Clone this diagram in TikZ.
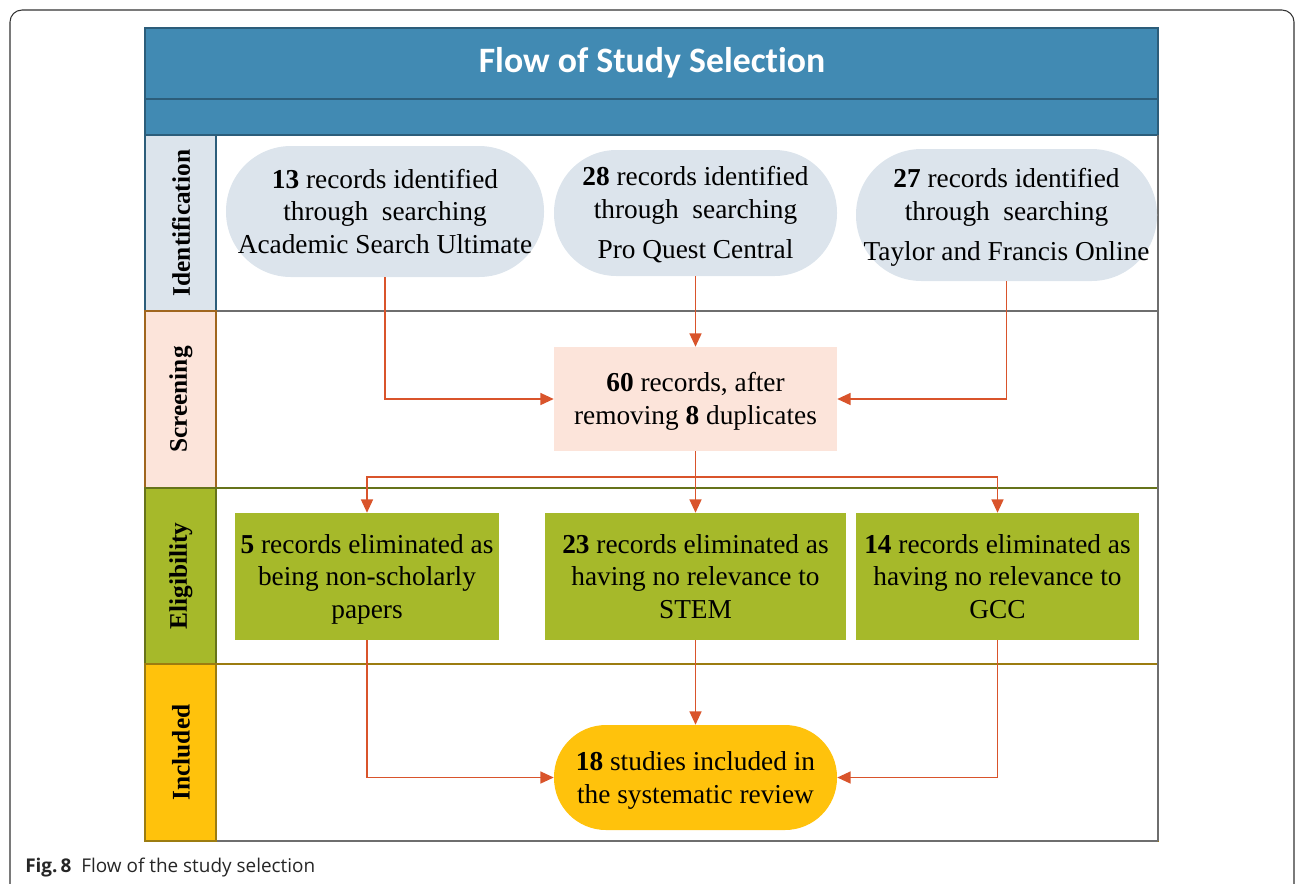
\documentclass[tikz,border=0pt]{standalone}
\usepackage{fontspec}
\setmainfont{Liberation Serif}
\newfontfamily\titlefont[Ligatures=NoCommon]{Carlito}
\newfontfamily\capfont{Open Sans}
\usetikzlibrary{arrows.meta}
\definecolor{hdr}{HTML}{418AB3}
\definecolor{hdrline}{HTML}{2C5D7A}
\definecolor{idfill}{HTML}{DCE4EC}
\definecolor{scfill}{HTML}{FCE4DA}
\definecolor{elfill}{HTML}{A6B92A}
\definecolor{infill}{HTML}{FFC20C}
\definecolor{arr}{HTML}{D9542B}
\definecolor{scline}{HTML}{A0661E}
\definecolor{elline}{HTML}{66731A}
\definecolor{inline}{HTML}{9C7C10}
\definecolor{sepgray}{HTML}{6E6E6E}
\newcommand\fs{\rule[-5.3pt]{0pt}{24.5pt}}
\begin{document}
\begin{tikzpicture}[x=0.75pt,y=-0.75pt,
  txt/.style={font=\fontsize{20.5pt}{24.5pt}\selectfont, align=center, inner sep=0pt, text=black},
  boxnode/.style={txt, rectangle, draw=none},
  lanelab/.style={font=\fontsize{19pt}{22pt}\selectfont\bfseries, rotate=90, inner sep=0pt},
  flow/.style={draw=arr, line width=1.1pt, -{Triangle[length=10pt,width=9pt]}},
  flowplain/.style={draw=arr, line width=1.1pt}
]
\useasboundingbox (0,0) rectangle (1295,883);
% outer frame
\draw[line width=0.8pt, draw=black!80, rounded corners=9pt] (10,884) -- (10,10) -- (1294,10) -- (1294,884);
% header
\fill[hdr] (145,28) rectangle (1158,135);
\draw[hdrline, line width=0.8pt] (145,28) rectangle (1158,135);
\draw[hdrline, line width=1.5pt] (145,99) -- (1158,99);
\node[font=\titlefont\fontsize{26.8pt}{30pt}\selectfont\bfseries, text=white] (title) at (652,63) {Flow of Study Selection};
% lanes content
\draw[hdrline, line width=0.8pt] (216,135) rectangle (1158,311);
\draw[scline, line width=0.8pt] (216,311) rectangle (1158,488);
\draw[elline, line width=0.8pt] (216,488) rectangle (1158,664);
\draw[inline, line width=0.8pt] (216,664) rectangle (1158,841);
\draw[sepgray, line width=1pt] (216,311) -- (1158,311);
\draw[sepgray, line width=1pt] (145,841) -- (1158,841);
\draw[sepgray, line width=0.8pt] (1158,135) -- (1158,841);
% lane labels
\filldraw[fill=idfill, draw=hdrline, line width=0.8pt] (145,135) rectangle (216,311);
\filldraw[fill=scfill, draw=scline, line width=0.8pt] (145,311) rectangle (216,488);
\filldraw[fill=elfill, draw=elline, line width=0.8pt] (145,488) rectangle (216,664);
\filldraw[fill=infill, draw=inline, line width=0.8pt] (145,664) rectangle (216,841);
\node[lanelab] (l1) at (181,223) {Identification};
\node[lanelab] (l2) at (181,399.5) {Screening};
\node[lanelab] (l3) at (181,576) {Eligibility};
\node[lanelab] (l4) at (181,752.5) {Included};
% identification
\node[boxnode, fill=idfill, rounded corners={65*0.75pt}, minimum width={318*0.75pt}, minimum height={131*0.75pt}] (id1) at (385,211.5)
  {\fs\textbf{13} records identified\\through~~searching\\Academic Search Ultimate\fs};
\node[boxnode, fill=idfill, rounded corners={62.5*0.75pt}, minimum width={283*0.75pt}, minimum height={126*0.75pt}] (id2) at (695.5,213)
  {\fs\textbf{28} records identified\\through~~searching\\[6pt]Pro Quest Central\fs};
\node[boxnode, fill=idfill, rounded corners={65.5*0.75pt}, minimum width={301*0.75pt}, minimum height={132*0.75pt}] (id3) at (1006.5,215)
  {\fs\textbf{27} records identified\\through~~searching\\[6pt]Taylor and Francis Online\fs};
% screening
\node[boxnode, fill=scfill, minimum width={283*0.75pt}, minimum height={104*0.75pt}] (sc) at (695.5,399)
  {\fs\textbf{60} records, after\\removing \textbf{8} duplicates\fs};
% eligibility
\node[boxnode, fill=elfill, minimum width={264*0.75pt}, minimum height={127*0.75pt}] (el1) at (367,576.5)
  {\fs\textbf{5} records eliminated as\\being non-scholarly\\papers\fs};
\node[boxnode, fill=elfill, minimum width={301*0.75pt}, minimum height={127*0.75pt}] (el2) at (695.5,576.5)
  {\fs\textbf{23} records eliminated as\\having no relevance to\\STEM\fs};
\node[boxnode, fill=elfill, minimum width={283*0.75pt}, minimum height={127*0.75pt}] (el3) at (997.5,576.5)
  {\fs\textbf{14} records eliminated as\\having no relevance to\\GCC\fs};
% included
\node[boxnode, fill=infill, rounded corners={52*0.75pt}, minimum width={283*0.75pt}, minimum height={105*0.75pt}] (inc) at (695.5,777.5)
  {\fs\textbf{18} studies included in\\the systematic review\fs};
% connectors
\draw[flow] (id1.south) |- (sc.west);
\draw[flow] (id2.south) -- (sc.north);
\draw[flow] (id3.south) |- (sc.east);
\coordinate (j) at (695.5,477);
\draw[flowplain] (sc.south) -- (j);
\draw[flow] (j) -| (el1.north);
\draw[flow] (j) -- (el2.north);
\draw[flow] (j) -| (el3.north);
\draw[flow] (el1.south) |- (inc.west);
\draw[flow] (el2.south) -- (inc.north);
\draw[flow] (el3.south) |- (inc.east);
% caption
\node[anchor=base west, inner sep=0pt, font=\capfont\fontsize{14.2pt}{17pt}\selectfont, text=black!85] (cap) at (25,872)
  {\textbf{Fig.\,8}\ \ Flow of the study selection};
\end{tikzpicture}
\end{document}
